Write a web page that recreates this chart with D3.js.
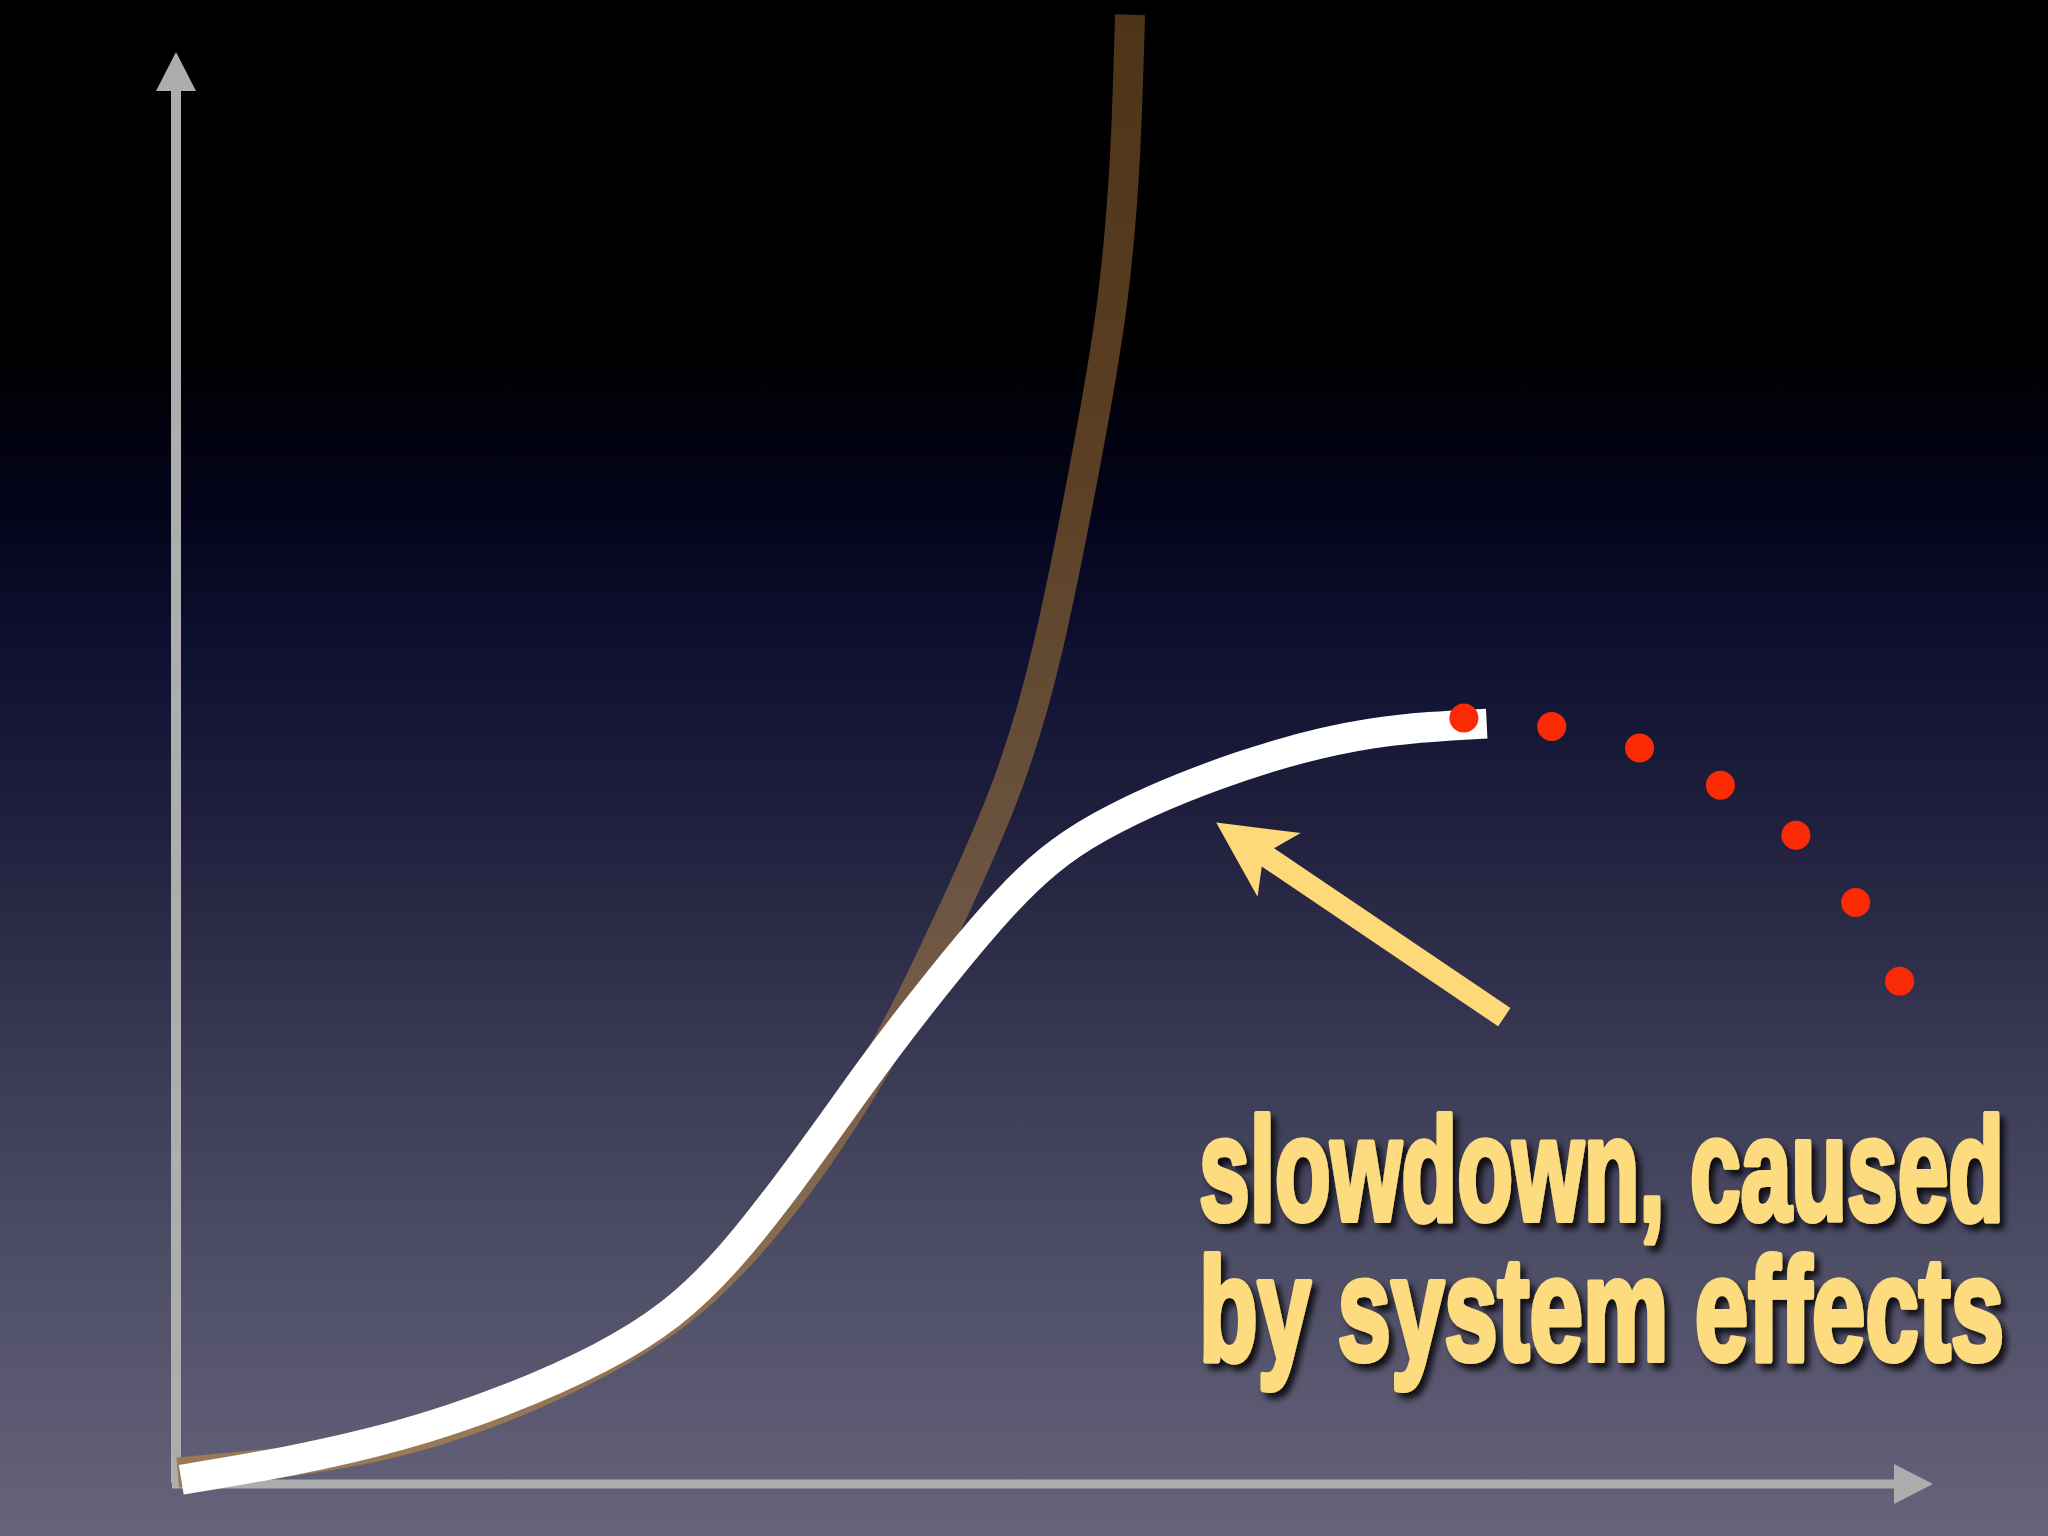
<!DOCTYPE html>
<html>
<head>
<meta charset="utf-8">
<script src="https://cdn.jsdelivr.net/npm/d3@7"></script>
<style>
  body { margin: 0; background: #000; }
  svg { display: block; }
</style>
</head>
<body>
<svg id="chart" width="2048" height="1536"></svg>
<script>
// curve points in chart units (0..100 on both axes)
const sCurveX = [0.3, 12.7, 24.1, 31.6, 38.4, 42.3, 47.2, 52.6, 60.6, 68.0, 74.6];
const sCurveY = [0.3, 3.4, 8.8, 16.0, 27.0, 33.4, 40.6, 45.9, 50.1, 52.4, 53.1];

const expCurveX = [0.1, 12.7, 24.1, 31.8, 38.5, 43.2, 47.0, 49.6, 51.9, 53.3, 54.0, 54.3];
const expCurveY = [0.8, 3.0, 8.5, 15.6, 26.5, 37.3, 47.8, 58.3, 72.2, 82.7, 92.5, 102.6];

const dotX = [73.3, 78.3, 83.3, 87.9, 92.2, 95.6, 98.1];
const dotY = [53.5, 52.9, 51.4, 48.8, 45.3, 40.6, 35.1];

const arrowFrom = [75.6, 32.6];
const arrowTo = [59.2, 46.2];

const labelLines = ['slowdown, caused', 'by system effects'];

const svg = d3.select('#chart');
const width = 2048, height = 1536;

var xs = d3.scaleLinear().domain([0, 100]).range([176, 1933]);
var ys = d3.scaleLinear().domain([0, 100]).range([1484, 52]);

var defs = svg.append('defs');

var bg = defs.append('linearGradient').attr('id', 'bg')
    .attr('x1', 0).attr('y1', 0).attr('x2', 0).attr('y2', 1);
[[0, '#000000'], [0.22, '#000000'], [0.33, '#03041a'], [0.42, '#0e1030'],
 [0.55, '#22213f'], [0.68, '#393853'], [0.82, '#4e4d66'], [1, '#65647b']]
    .forEach(function (s) { bg.append('stop').attr('offset', s[0]).attr('stop-color', s[1]); });

var brown = defs.append('linearGradient').attr('id', 'brown')
    .attr('gradientUnits', 'userSpaceOnUse')
    .attr('x1', 0).attr('y1', 0).attr('x2', 0).attr('y2', height);
[[0, '#4d3318'], [0.3, '#5a3f23'], [0.6, '#6d5644'], [0.95, '#9a7a56']]
    .forEach(function (s) { brown.append('stop').attr('offset', s[0]).attr('stop-color', s[1]); });

var shadow = defs.append('filter').attr('id', 'shadow')
    .attr('filterUnits', 'userSpaceOnUse')
    .attr('x', 1100).attr('y', 1000).attr('width', 948).attr('height', 500);
shadow.append('feDropShadow').attr('dx', 5).attr('dy', 6).attr('stdDeviation', 3)
    .attr('flood-color', '#000').attr('flood-opacity', 0.8);

svg.append('rect').attr('width', width).attr('height', height).attr('fill', 'url(#bg)');

// axes with arrow heads
var axisColor = '#adadad';
var headLen = 39, headHalf = 20;
svg.append('line')
    .attr('x1', xs(0)).attr('y1', ys(0) - 1)
    .attr('x2', xs(0)).attr('y2', ys(100) + headLen)
    .attr('stroke', axisColor).attr('stroke-width', 10);
svg.append('path')
    .attr('d', 'M' + xs(0) + ',' + ys(100) + 'L' + (xs(0) + headHalf) + ',' + (ys(100) + headLen) +
               'L' + (xs(0) - headHalf) + ',' + (ys(100) + headLen) + 'Z')
    .attr('fill', axisColor);
svg.append('line')
    .attr('x1', xs(0) - 4).attr('y1', ys(0))
    .attr('x2', xs(100) - headLen).attr('y2', ys(0))
    .attr('stroke', axisColor).attr('stroke-width', 9);
svg.append('path')
    .attr('d', 'M' + xs(100) + ',' + ys(0) + 'L' + (xs(100) - headLen) + ',' + (ys(0) - headHalf) +
               'L' + (xs(100) - headLen) + ',' + (ys(0) + headHalf) + 'Z')
    .attr('fill', axisColor);

var line = d3.line()
    .x(function (d) { return xs(d[0]); })
    .y(function (d) { return ys(d[1]); })
    .curve(d3.curveNatural);

// exponential curve behind
svg.append('path')
    .datum(d3.zip(expCurveX, expCurveY))
    .attr('d', line)
    .attr('fill', 'none')
    .attr('stroke', 'url(#brown)')
    .attr('stroke-width', 30);

// s-curve
svg.append('path')
    .datum(d3.zip(sCurveX, sCurveY))
    .attr('d', line)
    .attr('fill', 'none')
    .attr('stroke', '#ffffff')
    .attr('stroke-width', 30);

// dotted continuation
svg.selectAll('circle.dot')
    .data(d3.zip(dotX, dotY))
    .enter().append('circle')
    .attr('class', 'dot')
    .attr('cx', function (d) { return xs(d[0]); })
    .attr('cy', function (d) { return ys(d[1]); })
    .attr('r', 14.5)
    .attr('fill', '#fa2b04');

// yellow pointer arrow
(function () {
    var tx = xs(arrowTo[0]), ty = ys(arrowTo[1]);
    var fx = xs(arrowFrom[0]), fy = ys(arrowFrom[1]);
    var len = Math.hypot(fx - tx, fy - ty);
    var ux = (fx - tx) / len, uy = (fy - ty) / len;
    var nx = -uy, ny = ux;
    var pt = function (a, b) { return [tx + ux * a + nx * b, ty + uy * a + ny * b]; };
    var pts = [pt(0, 0), pt(76, -38.5), pt(62.5, -11), pt(len, -11), pt(len, 11), pt(62.5, 11), pt(76, 38.5)];
    svg.append('path')
        .attr('d', 'M' + pts.map(function (p) { return p.join(','); }).join('L') + 'Z')
        .attr('fill', '#fdd97a');
})();

// caption
svg.append('g')
    .attr('filter', 'url(#shadow)')
    .selectAll('text')
    .data(labelLines)
    .enter().append('text')
    .attr('x', 1199)
    .attr('y', function (d, i) { return 1220 + i * 140; })
    .attr('textLength', 805)
    .attr('lengthAdjust', 'spacingAndGlyphs')
    .style('font-family', '"Liberation Sans Narrow", "Liberation Sans", sans-serif')
    .style('font-weight', 'bold')
    .style('font-size', '147px')
    .style('fill', '#fddc80')
    .style('stroke', '#fddc80')
    .style('stroke-width', 6)
    .style('stroke-linejoin', 'round')
    .text(function (d) { return d; });
</script>
</body>
</html>
